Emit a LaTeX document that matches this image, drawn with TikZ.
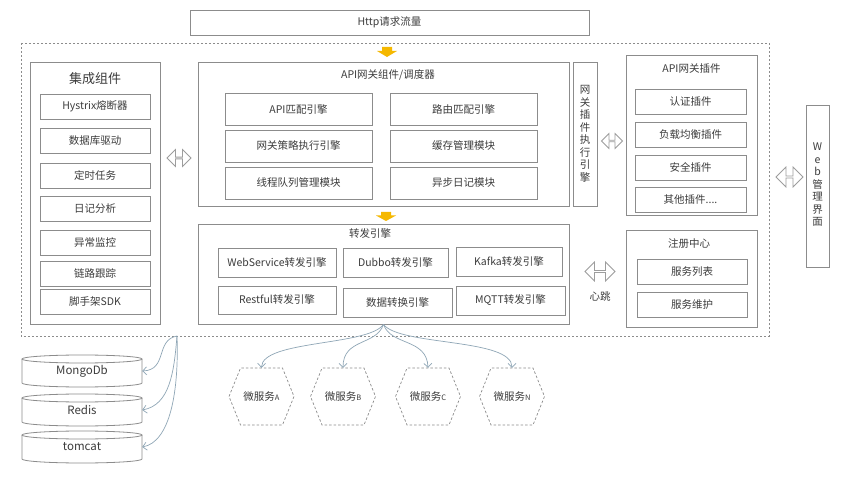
\documentclass[tikz,border=0pt]{standalone}
\usepackage{fontspec}
\setmainfont{Noto Sans CJK SC}
\usetikzlibrary{shapes.arrows,arrows.meta}
\definecolor{lg}{HTML}{8C8C8C}
\definecolor{tx}{HTML}{3C3C3C}
\definecolor{cn}{HTML}{8FA6B6}
\definecolor{yel}{HTML}{F5B800}
\newcommand\mycyl[3]{%
  \node[ttl, minimum width=120pt, minimum height=32pt, font=\fontsize{11.5}{13}\selectfont] (#1) at (82,#2) {#3};
  \draw[lg, line width=0.8pt] (82,#2-12) ellipse [x radius=60, y radius=4];
  \draw[lg, line width=0.8pt] (22,#2-12) -- (22,#2+12) arc[start angle=180, end angle=0, x radius=60, y radius=4] -- (142,#2-12);
}
\newcommand\myhex[3]{%
  \node[ttl, minimum width=65pt, minimum height=57pt, font=\fontsize{10.5}{12}\selectfont] (#1) at (#2,396.5) {#3};
  \draw[lg, dashed, line width=0.7pt, dash pattern=on 2.5pt off 2pt] (#2-32.5,396.5) -- (#2-21,368) -- (#2+21,368) -- (#2+32.5,396.5) -- (#2+21,425) -- (#2-21,425) -- cycle;
}
\begin{document}
\begin{tikzpicture}[x=1pt,y=-1pt,
  panel/.style={draw=lg, line width=0.9pt, inner sep=0pt},
  sub/.style={draw=lg, line width=0.9pt, inner sep=0pt, text=tx, font=\fontsize{10.5}{12}\selectfont},
  ttl/.style={text=tx, inner sep=0pt, font=\fontsize{10.5}{12}\selectfont},
  vert/.style={text=tx, inner sep=0pt, align=center, font=\fontsize{10.5}{12.5}\selectfont},
  dbl/.style={shape=double arrow, draw=lg!85, line width=0.8pt, fill=white, inner sep=0pt, double arrow head extend=3.5pt},
  conn/.style={draw=cn, line width=0.7pt, -{Straight Barb[length=4pt,width=8pt]}},
  yarrow/.style={fill=yel, draw=none}]
\fill[white] (0,0) rectangle (854,478);
\useasboundingbox (0,0) rectangle (854,478);

% top request box
\node[panel, minimum width=399pt, minimum height=25pt, text=tx, font=\fontsize{10.5}{12}\selectfont] (http) at (389.5,22.5) {Http请求流量};

% outer dashed frame
\draw[lg, line width=0.7pt, dash pattern=on 2pt off 2pt] (21,43) rectangle (769,336);

% yellow arrows
\fill[yarrow] (382,47) -- (392,47) -- (392,51) -- (397,51) -- (387,57) -- (377,51) -- (382,51) -- cycle;
\fill[yarrow] (381,212) -- (391,212) -- (391,215.5) -- (396,215.5) -- (386,221) -- (376,215.5) -- (381,215.5) -- cycle;

% integration components
\node[panel, minimum width=130pt, minimum height=262pt] (integ) at (95,193) {};
\node[ttl, font=\fontsize{13}{14}\selectfont] (integt) at (95,79) {集成组件};
\node[sub, minimum width=110pt, minimum height=25pt] (hys) at (95,106.5) {Hystrix熔断器};
\node[sub, minimum width=110pt, minimum height=25pt] (dbd) at (95,141) {数据库驱动};
\node[sub, minimum width=110pt, minimum height=25pt] (timer) at (95,175.5) {定时任务};
\node[sub, minimum width=110pt, minimum height=25pt] (logan) at (95,208.5) {日记分析};
\node[sub, minimum width=110pt, minimum height=25pt] (exmon) at (95,242.5) {异常监控};
\node[sub, minimum width=110pt, minimum height=25pt] (trace) at (95,273.5) {链路跟踪};
\node[sub, minimum width=110pt, minimum height=25pt] (sdk) at (95,301.5) {脚手架SDK};

\node[dbl, minimum height=24pt, minimum width=17pt] (dA) at (179,158) {};

% API gateway components
\node[panel, minimum width=371pt, minimum height=144pt] (gw) at (383.5,134) {};
\node[ttl] (gwt) at (388,75) {API网关组件/调度器};
\node[sub, minimum width=147pt, minimum height=32pt] (apim) at (298.5,109) {API匹配引擎};
\node[sub, minimum width=147pt, minimum height=32pt] (route) at (463.5,109) {路由匹配引擎};
\node[sub, minimum width=147pt, minimum height=32pt] (policy) at (298.5,146) {网关策略执行引擎};
\node[sub, minimum width=147pt, minimum height=32pt] (cache) at (463.5,146) {缓存管理模块};
\node[sub, minimum width=147pt, minimum height=32pt] (thread) at (298.5,183) {线程队列管理模块};
\node[sub, minimum width=147pt, minimum height=32pt] (alog) at (463.5,183) {异步日记模块};

% plugin executor
\node[panel, minimum width=24pt, minimum height=144pt] (pexec) at (585,134) {};
\node[vert] (pexect) at (585,134) {网\\关\\插\\件\\执\\行\\引\\擎};

\node[dbl, minimum height=21pt, minimum width=15pt] (dB) at (612,141) {};

% API gateway plugins
\node[panel, minimum width=131pt, minimum height=160pt] (plug) at (691.5,135) {};
\node[ttl] (plugt) at (691.5,69) {API网关插件};
\node[sub, minimum width=111pt, minimum height=25pt] (auth) at (690.5,101.5) {认证插件};
\node[sub, minimum width=111pt, minimum height=25pt] (lb) at (690.5,134.5) {负载均衡插件};
\node[sub, minimum width=111pt, minimum height=25pt] (sec) at (690.5,167.5) {安全插件};
\node[sub, minimum width=111pt, minimum height=25pt] (other) at (690.5,200) {其他插件....};

% web UI
\node[panel, minimum width=23pt, minimum height=162pt] (web) at (817.5,186) {};
\node[vert] (webt) at (817.5,185) {W\\e\\b\\管\\理\\界\\面};
\node[dbl, minimum height=27pt, minimum width=20pt] (dC) at (789.5,177) {};

% forwarding engine
\node[panel, minimum width=371pt, minimum height=100pt] (fwd) at (383.5,274) {};
\node[ttl] (fwdt) at (370,234) {转发引擎};
\node[sub, minimum width=118pt, minimum height=29pt] (ws) at (277,262.5) {WebService转发引擎};
\node[sub, minimum width=105pt, minimum height=29pt] (dubbo) at (395.5,262.5) {Dubbo转发引擎};
\node[sub, minimum width=106pt, minimum height=29pt] (kafka) at (509,261.5) {Kafka转发引擎};
\node[sub, minimum width=118pt, minimum height=28pt] (rest) at (277,300) {Restful转发引擎};
\node[sub, minimum width=109pt, minimum height=29pt] (conv) at (397.5,302.5) {数据转换引擎};
\node[sub, minimum width=109pt, minimum height=29pt] (mqtt) at (510.5,300.5) {MQTT转发引擎};

\node[dbl, minimum height=30pt, minimum width=19pt] (dD) at (600,271.5) {};
\node[ttl] (hb) at (600,297) {心跳};

% registry
\node[panel, minimum width=131pt, minimum height=97pt] (reg) at (691.5,278.5) {};
\node[ttl] (regt) at (689,244) {注册中心};
\node[sub, minimum width=110pt, minimum height=25pt] (slist) at (692,271.5) {服务列表};
\node[sub, minimum width=110pt, minimum height=25pt] (smaint) at (692,304.5) {服务维护};

% databases
\mycyl{mongo}{371}{MongoDb}
\mycyl{redis}{410}{Redis}
\mycyl{tomcat}{447}{tomcat}
\coordinate (dbsrc) at (177,336);
\draw[conn] (dbsrc) .. controls (155,340) and (168,370) .. (mongo.east);
\draw[conn] (dbsrc) .. controls (174,372) and (170,405) .. (redis.east);
\draw[conn] (dbsrc) .. controls (179,392) and (170,442) .. (tomcat.east);

% microservices
\myhex{msA}{261.5}{微服务{\fontsize{7.5}{8}\selectfont A}}
\myhex{msB}{343}{微服务{\fontsize{7.5}{8}\selectfont B}}
\myhex{msC}{428}{微服务{\fontsize{7.5}{8}\selectfont C}}
\myhex{msN}{512}{微服务{\fontsize{7.5}{8}\selectfont N}}
\draw[conn] (fwd.south) .. controls (368,346) and (262,340) .. (msA.north);
\draw[conn] (fwd.south) .. controls (376,346) and (343,338) .. (msB.north);
\draw[conn] (fwd.south) .. controls (391,346) and (427,338) .. (msC.north);
\draw[conn] (fwd.south) .. controls (400,346) and (512,338) .. (msN.north);
\end{tikzpicture}
\end{document}
